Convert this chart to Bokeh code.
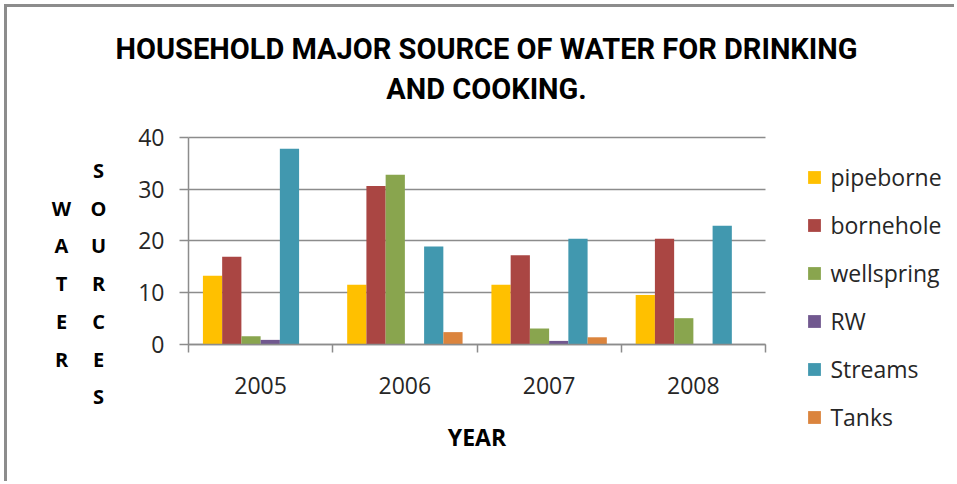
from bokeh.plotting import figure
from bokeh.models import (ColumnDataSource, Range1d, FixedTicker, Legend, LegendItem, Label, Grid)
from bokeh.embed import file_html
from bokeh.resources import INLINE

# Household major source of water for drinking and cooking, by year
years = ["2005", "2006", "2007", "2008"]
sources = ["pipeborne", "bornehole", "wellspring", "RW", "Streams", "Tanks"]
pipeborne = [13.2, 11.5, 11.5, 9.5]
bornehole = [16.9, 30.6, 17.2, 20.4]
wellspring = [1.5, 32.8, 3.0, 5.0]
rw = [0.8, 0.0, 0.6, 0.0]
streams = [37.8, 18.9, 20.4, 22.9]
tanks = [0.0, 2.3, 1.3, 0.0]
y_ticks = [0, 10, 20, 30, 40]
y_max = 40

series = [pipeborne, bornehole, wellspring, rw, streams, tanks]
colors = ["#FFC000", "#AA4643", "#89A54E", "#71588F", "#4198AF", "#DB843D"]

FONT = "Open Sans"
GRID = "#8c8c8c"
TEXT = "#262626"

# canvas size and where the plotting area sits on it (pixels, from top-left)
W, H = 950, 477
AREA_L, AREA_R, AREA_T, AREA_B = 181, 758, 130, 336.5

# the frame covers the whole canvas; the axes are pinned at the data origin
nx = len(years)
px_x = (AREA_R - AREA_L) / nx
px_y = (AREA_B - AREA_T) / y_max
x_range = Range1d(-AREA_L / px_x, nx + (W - AREA_R) / px_x)
y_range = Range1d(-(H - AREA_B) / px_y, y_max + AREA_T / px_y)

p = figure(width=W, height=H, output_backend="svg", toolbar_location=None,
           x_range=x_range, y_range=y_range, min_border=0,
           background_fill_color="white", border_fill_color="white",
           styles={"border-left": "3px solid #8c8c8c", "border-top": "3px solid #8c8c8c",
                   "margin-left": "4px", "margin-top": "4px"})
p.outline_line_color = None

# horizontal gridlines, only across the plotting area
p.xgrid.grid_line_color = None
if "cross_bounds" in Grid.properties():
    p.ygrid.ticker = FixedTicker(ticks=y_ticks)
    p.ygrid.grid_line_color = GRID
    p.ygrid.grid_line_width = 1.5
    p.ygrid.cross_bounds = (0, nx)
else:
    p.ygrid.grid_line_color = None
    p.segment(x0=[0] * len(y_ticks), x1=[nx] * len(y_ticks), y0=y_ticks, y1=y_ticks,
              line_color=GRID, line_width=1.5)

# bars: six per year, side by side, filling 80% of each year slot
n = len(sources)
bar_w = 0.8 / n
renderers = []
for i, (name, vals, col) in enumerate(zip(sources, series, colors)):
    offset = (i - (n - 1) / 2) * bar_w
    xs = [k + 0.5 + offset for k in range(nx)]
    src = ColumnDataSource(dict(x=xs, top=vals))
    r = p.vbar(x="x", top="top", bottom=0, width=bar_w, source=src,
               fill_color=col, line_color=None)
    renderers.append(r)

# x axis: year labels centred, tick marks on slot boundaries
centres = [k + 0.5 for k in range(nx)]
xa = p.xaxis[0]
xa.fixed_location = 0
xa.bounds = (0, nx)
xa.ticker = FixedTicker(ticks=centres, minor_ticks=list(range(nx + 1)))
xa.major_label_overrides = {c: y for c, y in zip(centres, years)}
xa.major_tick_line_color = None
xa.major_tick_out = 0
xa.major_tick_in = 0
xa.minor_tick_line_color = GRID
xa.minor_tick_line_width = 1.5
xa.minor_tick_out = 8
xa.minor_tick_in = 0
xa.major_label_standoff = 25

ya = p.yaxis[0]
ya.fixed_location = 0
ya.bounds = (0, y_max)
ya.ticker = FixedTicker(ticks=y_ticks)
ya.major_tick_line_color = GRID
ya.major_tick_line_width = 1.5
ya.major_tick_out = 9
ya.major_tick_in = 0
ya.minor_tick_line_color = None
ya.major_label_standoff = 15

for ax in (xa, ya):
    ax.axis_line_color = GRID
    ax.axis_line_width = 1.5
    ax.major_label_text_font = FONT
    ax.major_label_text_font_size = "23px"
    ax.major_label_text_color = TEXT

# legend to the right of the plotting area
legend = Legend(items=[LegendItem(label=s, renderers=[r]) for s, r in zip(sources, renderers)],
                location=(799.4, 51.5), glyph_width=16, glyph_height=16,
                label_text_font=FONT, label_text_font_size="23px",
                label_text_color=TEXT, label_standoff=8,
                label_height=32, spacing=16, padding=0, margin=0,
                border_line_color=None, background_fill_alpha=0)
p.add_layout(legend)


def text_at(text, x, y, size, font=FONT, bold=True, color="black"):
    # x, y in pixels from the canvas's bottom-left corner
    p.add_layout(Label(x=x, y=y, x_units="screen", y_units="screen", text=text,
                       text_align="center", text_baseline="alphabetic",
                       text_font=font, text_font_style="bold" if bold else "normal",
                       text_font_size=size, text_color=color))


# title, two centred lines
text_at("HOUSEHOLD MAJOR SOURCE OF WATER FOR DRINKING", 479, 436, "29px", font="Roboto")
text_at("AND COOKING.", 479, 396, "29px", font="Roboto")

# axis titles
text_at("YEAR", 469.5, 47.5, "23px")
for j, ch in enumerate("SOURCES"):
    text_at(ch, 91, 314 - j * 37.7, "20px")
for j, ch in enumerate("WATER"):
    text_at(ch, 54, 276.3 - j * 37.7, "20px")

open("out.html", "w").write(file_html(p, INLINE))
